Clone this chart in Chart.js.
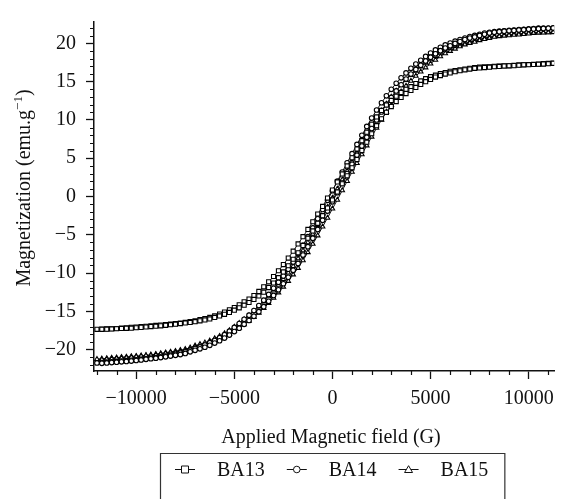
<!DOCTYPE html>
<html>
<head>
<meta charset="utf-8">
<script src="https://cdn.jsdelivr.net/npm/chart.js@4.4.0/dist/chart.umd.min.js"></script>
<style>
  html, body { margin: 0; padding: 0; background: #fff; }
  canvas { display: block; }
</style>
</head>
<body>
<canvas id="loopChart" width="562" height="499"></canvas>
<script>
// applied field (G): branch coming down from +H, then branch going back up
var fieldDown = [11500, 11250, 11000, 10750, 10500, 10250, 10000, 9750, 9500, 9250,
  9000, 8750, 8500, 8250, 8000, 7750, 7500, 7250, 7000, 6750,
  6500, 6250, 6000, 5750, 5500, 5250, 5000, 4750, 4500, 4250,
  4000, 3750, 3500, 3250, 3000, 2750, 2500, 2250, 2000, 1750,
  1500, 1250, 1000, 750, 500, 250, 0, -250, -500, -750,
  -1000, -1250, -1500, -1750, -2000, -2250, -2500, -2750, -3000, -3250,
  -3500, -3750, -4000, -4250, -4500, -4750, -5000, -5250, -5500, -5750,
  -6000, -6250, -6500, -6750, -7000, -7250, -7500, -7750, -8000, -8250,
  -8500, -8750, -9000, -9250, -9500, -9750, -10000, -10250, -10500, -10750,
  -11000, -11250, -11500, -11750, -12000];
var fieldUp = [-11750, -11500, -11250, -11000, -10750, -10500, -10250, -10000, -9750, -9500,
  -9250, -9000, -8750, -8500, -8250, -8000, -7750, -7500, -7250, -7000,
  -6750, -6500, -6250, -6000, -5750, -5500, -5250, -5000, -4750, -4500,
  -4250, -4000, -3750, -3500, -3250, -3000, -2750, -2500, -2250, -2000,
  -1750, -1500, -1250, -1000, -750, -500, -250, 0, 250, 500,
  750, 1000, 1250, 1500, 1750, 2000, 2250, 2500, 2750, 3000,
  3250, 3500, 3750, 4000, 4250, 4500, 4750, 5000, 5250, 5500,
  5750, 6000, 6250, 6500, 6750, 7000, 7250, 7500, 7750, 8000,
  8250, 8500, 8750, 9000, 9250, 9500, 9750, 10000, 10250, 10500,
  10750, 11000, 11250, 11500];

// magnetization (emu/g)
var ba13Down = [17.45, 17.43, 17.4, 17.35, 17.3, 17.28, 17.25, 17.22, 17.2, 17.15,
  17.1, 17.08, 17.05, 17.0, 16.95, 16.93, 16.9, 16.83, 16.75, 16.65,
  16.55, 16.45, 16.35, 16.2, 16.05, 15.85, 15.65, 15.4, 15.1, 14.75,
  14.35, 14.0, 13.6, 13.1, 12.55, 11.95, 11.25, 10.4, 9.45, 8.4,
  7.3, 6.2, 5.05, 4.0, 2.95, 1.9, 0.85, -0.2, -1.3, -2.3,
  -3.3, -4.3, -5.25, -6.2, -7.15, -8.05, -8.9, -9.7, -10.45, -11.15,
  -11.8, -12.4, -12.95, -13.4, -13.75, -14.15, -14.5, -14.8, -15.1, -15.35,
  -15.6, -15.8, -15.95, -16.1, -16.25, -16.35, -16.45, -16.53, -16.6, -16.68,
  -16.75, -16.8, -16.85, -16.9, -16.95, -17.0, -17.05, -17.1, -17.15, -17.2,
  -17.25, -17.28, -17.3, -17.33, -17.35];
var ba13Up = [-17.35, -17.33, -17.3, -17.28, -17.25, -17.23, -17.2, -17.15, -17.1, -17.05,
  -17.0, -16.95, -16.9, -16.83, -16.75, -16.68, -16.6, -16.53, -16.45, -16.35,
  -16.25, -16.13, -16.0, -15.8, -15.6, -15.4, -15.15, -14.85, -14.55, -14.2,
  -13.85, -13.45, -13.0, -12.5, -11.9, -11.3, -10.6, -9.85, -9.05, -8.2,
  -7.35, -6.4, -5.45, -4.5, -3.5, -2.5, -1.5, -0.45, 0.6, 1.65,
  2.7, 3.75, 4.85, 6.0, 7.1, 8.2, 9.25, 10.15, 11.0, 11.75,
  12.4, 12.95, 13.45, 13.85, 14.25, 14.65, 15.0, 15.3, 15.6, 15.8,
  16.0, 16.15, 16.3, 16.43, 16.55, 16.65, 16.75, 16.8, 16.85, 16.9,
  16.95, 17.0, 17.05, 17.08, 17.1, 17.15, 17.2, 17.23, 17.25, 17.28,
  17.3, 17.35, 17.4, 17.43];

var ba14Down = [22.1, 22.05, 22.0, 22.0, 22.0, 21.95, 21.9, 21.85, 21.8, 21.75,
  21.7, 21.65, 21.6, 21.53, 21.45, 21.35, 21.2, 21.05, 20.9, 20.7,
  20.5, 20.3, 20.05, 19.8, 19.5, 19.15, 18.75, 18.3, 17.8, 17.3,
  16.75, 16.15, 15.5, 14.8, 14.0, 13.15, 12.25, 11.3, 10.25, 9.15,
  8.0, 6.8, 5.6, 4.4, 3.2, 2.0, 0.75, -0.5, -1.7, -2.9,
  -4.1, -5.25, -6.35, -7.45, -8.55, -9.5, -10.4, -11.2, -12.0, -12.8,
  -13.55, -14.25, -14.9, -15.5, -16.05, -16.6, -17.1, -17.6, -18.05, -18.45,
  -18.8, -19.1, -19.4, -19.65, -19.85, -20.1, -20.3, -20.45, -20.6, -20.73,
  -20.85, -20.95, -21.05, -21.13, -21.2, -21.28, -21.35, -21.4, -21.45, -21.5,
  -21.55, -21.6, -21.65, -21.7, -21.75];
var ba14Up = [-21.8, -21.75, -21.7, -21.65, -21.6, -21.55, -21.5, -21.43, -21.35, -21.28,
  -21.2, -21.13, -21.05, -20.95, -20.85, -20.75, -20.65, -20.5, -20.3, -20.1,
  -19.9, -19.7, -19.45, -19.15, -18.85, -18.5, -18.1, -17.65, -17.2, -16.7,
  -16.2, -15.65, -15.05, -14.4, -13.7, -12.95, -12.2, -11.4, -10.55, -9.65,
  -8.75, -7.65, -6.55, -5.45, -4.3, -3.1, -1.9, -0.7, 0.5, 1.75,
  3.0, 4.2, 5.4, 6.6, 7.75, 8.9, 10.0, 11.05, 12.05, 12.95,
  13.8, 14.6, 15.35, 16.0, 16.6, 17.15, 17.7, 18.2, 18.65, 19.05,
  19.4, 19.7, 20.0, 20.25, 20.5, 20.7, 20.85, 21.05, 21.2, 21.35,
  21.45, 21.53, 21.6, 21.65, 21.7, 21.75, 21.8, 21.85, 21.9, 21.93,
  21.95, 21.98, 22.0, 22.05];

var ba15Down = [21.55, 21.5, 21.45, 21.45, 21.45, 21.4, 21.35, 21.3, 21.25, 21.2,
  21.15, 21.08, 21.0, 20.93, 20.85, 20.7, 20.55, 20.38, 20.2, 20.0,
  19.8, 19.58, 19.35, 19.05, 18.75, 18.35, 17.9, 17.45, 16.95, 16.4,
  15.85, 15.2, 14.55, 13.8, 13.0, 12.1, 11.2, 10.2, 9.15, 8.05,
  6.9, 5.7, 4.5, 3.35, 2.2, 1.0, -0.2, -1.4, -2.6, -3.75,
  -4.9, -6.0, -7.05, -8.1, -9.1, -9.95, -10.8, -11.55, -12.3, -13.05,
  -13.75, -14.4, -15.0, -15.55, -16.05, -16.55, -17.05, -17.5, -17.9, -18.25,
  -18.55, -18.85, -19.1, -19.3, -19.5, -19.75, -19.95, -20.08, -20.2, -20.3,
  -20.4, -20.5, -20.6, -20.68, -20.75, -20.8, -20.85, -20.9, -20.95, -21.0,
  -21.05, -21.1, -21.15, -21.2, -21.25];
var ba15Up = [-21.3, -21.25, -21.2, -21.15, -21.1, -21.05, -21.0, -20.93, -20.85, -20.8,
  -20.75, -20.68, -20.6, -20.5, -20.4, -20.33, -20.25, -20.1, -19.95, -19.78,
  -19.6, -19.4, -19.2, -18.95, -18.65, -18.35, -18.0, -17.6, -17.15, -16.7,
  -16.25, -15.75, -15.2, -14.6, -13.95, -13.25, -12.55, -11.8, -11.05, -10.2,
  -9.35, -8.35, -7.3, -6.2, -5.1, -3.95, -2.8, -1.6, -0.45, 0.8,
  2.0, 3.2, 4.35, 5.5, 6.65, 7.8, 8.95, 10.0, 11.05, 11.95,
  12.85, 13.7, 14.45, 15.1, 15.75, 16.3, 16.85, 17.35, 17.85, 18.3,
  18.7, 19.0, 19.3, 19.6, 19.85, 20.05, 20.2, 20.4, 20.55, 20.7,
  20.85, 20.93, 21.0, 21.05, 21.1, 21.15, 21.2, 21.28, 21.35, 21.38,
  21.4, 21.43, 21.45, 21.5];

var seriesNames = ["BA13", "BA14", "BA15"];
var xTicks = [-10000, -5000, 0, 5000, 10000];
var yTicks = [-20, -15, -10, -5, 0, 5, 10, 15, 20];

var serif = "'Liberation Serif', 'Times New Roman', serif";
var ink = "#111";

function loop(down, up) {
  var pts = [];
  for (var i = 0; i < fieldDown.length; i++) pts.push({ x: fieldDown[i], y: down[i] });
  for (var j = 0; j < fieldUp.length; j++) pts.push({ x: fieldUp[j], y: up[j] });
  return pts;
}

function minusSign(v) {
  return v < 0 ? "\u2212" + Math.abs(v) : String(v);
}

function makeDataset(label, down, up, style, radius) {
  return {
    label: label,
    data: loop(down, up),
    showLine: true,
    borderColor: ink,
    borderWidth: 1,
    pointStyle: style,
    pointRadius: radius,
    pointBorderWidth: 1.1,
    pointBorderColor: "#000",
    pointBackgroundColor: "#fff",
    clip: { left: 3, top: false, right: 0, bottom: false }
  };
}

function drawMarker(ctx, style, x, y) {
  ctx.beginPath();
  if (style === "rect") {
    ctx.rect(x - 3.5, y - 3.5, 7, 7);
  } else if (style === "circle") {
    ctx.arc(x, y, 3.3, 0, Math.PI * 2);
  } else {
    ctx.moveTo(x, y - 3.8);
    ctx.lineTo(x + 4, y + 3);
    ctx.lineTo(x - 4, y + 3);
    ctx.closePath();
  }
  ctx.fillStyle = "#fff";
  ctx.fill();
  ctx.stroke();
}

var extras = {
  id: "extras",
  afterDraw: function(chart) {
    var ctx = chart.ctx;
    var xs = chart.scales.x, ys = chart.scales.y;
    var a = chart.chartArea;
    ctx.save();

    // minor ticks
    ctx.strokeStyle = ink;
    ctx.lineWidth = 1.2;
    ctx.beginPath();
    for (var v = -12000; v <= xs.max; v += 1000) {
      if (v % 5000 === 0) continue;
      var px = Math.round(xs.getPixelForValue(v)) + 0.5;
      ctx.moveTo(px, a.bottom);
      ctx.lineTo(px, a.bottom + 4);
    }
    for (var w = -22; w <= 22; w++) {
      if (w % 5 === 0) continue;
      var py = Math.round(ys.getPixelForValue(w)) + 0.5;
      ctx.moveTo(a.left - 4, py);
      ctx.lineTo(a.left, py);
    }
    ctx.stroke();

    // axis titles
    ctx.fillStyle = ink;
    ctx.textBaseline = "alphabetic";
    ctx.font = "20px " + serif;
    ctx.textAlign = "center";
    ctx.fillText("Applied Magnetic field (G)", 331, 443);

    var t1 = "Magnetization (emu.g", sup = "\u22121", t2 = ")";
    ctx.font = "20px " + serif;
    var w1 = ctx.measureText(t1).width, w3 = ctx.measureText(t2).width;
    ctx.font = "13px " + serif;
    var w2 = ctx.measureText(sup).width;
    var total = w1 + w2 + w3;
    ctx.translate(30, 188);
    ctx.rotate(-Math.PI / 2);
    ctx.textAlign = "left";
    ctx.font = "20px " + serif;
    ctx.fillText(t1, -total / 2, 0);
    ctx.font = "13px " + serif;
    ctx.fillText(sup, -total / 2 + w1, -8);
    ctx.font = "20px " + serif;
    ctx.fillText(t2, -total / 2 + w1 + w2, 0);
    ctx.setTransform(1, 0, 0, 1, 0, 0);

    // legend
    var styles = ["rect", "circle", "triangle"];
    var rowY = 469;
    var x = 175;
    ctx.font = "20px " + serif;
    ctx.lineWidth = 1;
    for (var k = 0; k < chart.data.datasets.length; k++) {
      ctx.strokeStyle = ink;
      ctx.beginPath();
      ctx.moveTo(x, rowY + 0.5);
      ctx.lineTo(x + 20, rowY + 0.5);
      ctx.stroke();
      drawMarker(ctx, styles[k], x + 10, rowY + 0.5);
      ctx.fillStyle = ink;
      ctx.fillText(chart.data.datasets[k].label, x + 42, 476);
      x += 42 + ctx.measureText(chart.data.datasets[k].label).width + 22;
    }
    var boxRight = x - 6;
    ctx.strokeStyle = "#333";
    ctx.lineWidth = 1.2;
    ctx.beginPath();
    ctx.moveTo(160.5, 510);
    ctx.lineTo(160.5, 453.5);
    ctx.lineTo(boxRight + 0.5, 453.5);
    ctx.lineTo(boxRight + 0.5, 510);
    ctx.stroke();

    ctx.restore();
  }
};

var loopChart = new Chart(document.getElementById("loopChart"), {
  type: "scatter",
  data: {
    datasets: [
      makeDataset(seriesNames[0], ba13Down, ba13Up, "rect", 2.9),
      makeDataset(seriesNames[1], ba14Down, ba14Up, "circle", 2.3),
      makeDataset(seriesNames[2], ba15Down, ba15Up, "triangle", 2.6)
    ]
  },
  options: {
    responsive: false,
    devicePixelRatio: 1,
    animation: false,
    layout: { padding: { left: 0, right: 6, top: 13, bottom: 52 } },
    plugins: {
      legend: { display: false },
      tooltip: { enabled: false }
    },
    scales: {
      x: {
        type: "linear",
        min: -12150,
        max: 11300,
        afterBuildTicks: function(scale) {
          scale.ticks = xTicks.map(function(v) { return { value: v }; });
        },
        afterFit: function(scale) { scale.height = 76; },
        border: { color: ink, width: 1.5 },
        grid: { display: true, drawOnChartArea: false, tickLength: 8, tickColor: ink, tickWidth: 1.3 },
        ticks: {
          color: ink,
          padding: 8,
          maxRotation: 0,
          font: { family: serif, size: 20 },
          callback: minusSign
        }
      },
      y: {
        type: "linear",
        min: -22.8,
        max: 22.8,
        afterBuildTicks: function(scale) {
          scale.ticks = yTicks.map(function(v) { return { value: v }; });
        },
        afterFit: function(scale) { scale.width = 94; },
        border: { color: ink, width: 1.5 },
        grid: { display: true, drawOnChartArea: false, tickLength: 8, tickColor: ink, tickWidth: 1.3 },
        ticks: {
          color: ink,
          padding: 10,
          font: { family: serif, size: 20 },
          callback: minusSign
        }
      }
    }
  },
  plugins: [extras]
});
</script>
</body>
</html>
